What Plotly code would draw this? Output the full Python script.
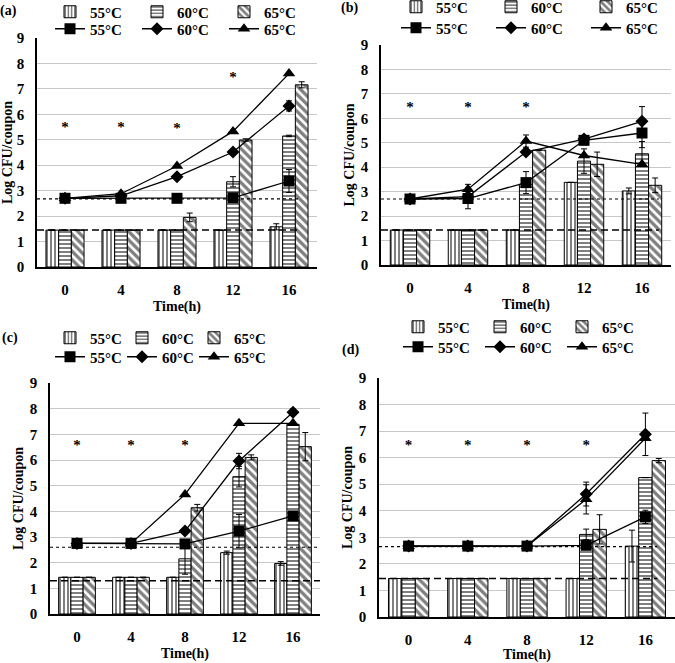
import plotly.graph_objects as go

W, H = 675, 663
FONT = "Liberation Serif"

times = ["0", "4", "8", "12", "16"]
temps = ["55°C", "60°C", "65°C"]

# bar series (rows: 55, 60, 65 C) and their error bars
bars_a = [[1.45, 1.45, 1.45, 1.45, 1.58],
          [1.45, 1.45, 1.45, 3.35, 5.15],
          [1.45, 1.45, 1.95, 4.99, 7.16]]
bar_err_a = [[0, 0, 0, 0, 0.12],
             [0, 0, 0, 0.2, 0.03],
             [0, 0, 0.17, 0.05, 0.12]]
# line series (square, diamond, triangle)
lines_a = [[2.7, 2.7, 2.7, 2.72, 3.38],
           [2.7, 2.8, 3.55, 4.52, 6.33],
           [2.7, 2.88, 3.97, 5.33, 7.6]]
line_err_a = [[0, 0, 0, 0, 0.45],
              [0, 0, 0, 0, 0.2],
              [0, 0, 0, 0, 0]]
stars_a = [0, 1, 2, 3]
star_y_a = [5.45, 5.45, 5.4, 7.4]
dotted_a, dashed_a, end_a = 2.68, 1.45, 4.21

bars_b = [[1.43, 1.43, 1.43, 3.38, 3.03],
          [1.43, 1.43, 3.3, 4.25, 4.55],
          [1.43, 1.43, 4.7, 4.12, 3.26]]
bar_err_b = [[0, 0, 0, 0, 0.12],
             [0, 0, 0, 0.5, 0.5],
             [0, 0, 0, 0.5, 0.3]]
lines_b = [[2.7, 2.72, 3.37, 5.1, 5.4],
           [2.7, 2.8, 4.62, 5.15, 5.88],
           [2.7, 3.1, 5.07, 4.48, 4.12]]
line_err_b = [[0, 0.42, 0.45, 0, 0.6],
              [0, 0, 0, 0, 0.6],
              [0, 0.2, 0.25, 0, 0]]
stars_b = [0, 1, 2]
star_y_b = [6.4, 6.4, 6.4]
dotted_b, dashed_b, end_b = 2.7, 1.43, 4.29

bars_c = [[1.43, 1.43, 1.43, 2.39, 1.97],
          [1.43, 1.43, 2.15, 5.35, 7.39],
          [1.43, 1.43, 4.14, 6.1, 6.52]]
bar_err_c = [[0, 0, 0, 0.06, 0.07],
             [0, 0, 0.6, 0.4, 0],
             [0, 0, 0.13, 0.1, 0.55]]
lines_c = [[2.75, 2.75, 2.73, 3.23, 3.82],
           [2.75, 2.75, 3.23, 5.96, 7.86],
           [2.75, 2.75, 4.66, 7.43, 7.43]]
line_err_c = [[0, 0, 0, 0.65, 0],
              [0, 0, 0, 0.3, 0.12],
              [0, 0, 0, 0, 0]]
stars_c = [0, 1, 2]
star_y_c = [6.53, 6.53, 6.53]
dotted_c, dashed_c, end_c = 2.6, 1.3, 4.5

bars_d = [[1.45, 1.45, 1.45, 1.45, 2.67],
          [1.45, 1.45, 1.45, 3.11, 5.25],
          [1.45, 1.45, 1.45, 3.3, 5.89]]
bar_err_d = [[0, 0, 0, 0, 0.6],
             [0, 0, 0, 0.2, 0],
             [0, 0, 0, 0.55, 0.08]]
lines_d = [[2.67, 2.67, 2.67, 2.7, 3.77],
           [2.67, 2.67, 2.67, 4.63, 6.88],
           [2.67, 2.67, 2.67, 4.43, 6.73]]
line_err_d = [[0, 0, 0, 0, 0.25],
              [0, 0, 0, 0.45, 0.8],
              [0, 0, 0, 0.55, 0]]
stars_d = [0, 1, 2, 3]
star_y_d = [6.42, 6.42, 6.42, 6.42]
dotted_d, dashed_d, end_d = 2.65, 1.45, 4.2

panels = [
    ("(a)", bars_a, bar_err_a, lines_a, line_err_a, stars_a, star_y_a, dotted_a, dashed_a, end_a),
    ("(b)", bars_b, bar_err_b, lines_b, line_err_b, stars_b, star_y_b, dotted_b, dashed_b, end_b),
    ("(c)", bars_c, bar_err_c, lines_c, line_err_c, stars_c, star_y_c, dotted_c, dashed_c, end_c),
    ("(d)", bars_d, bar_err_d, lines_d, line_err_d, stars_d, star_y_d, dotted_d, dashed_d, end_d),
]

# layout in pixels: plot frame (left, right, top, bottom)
frames = [(37, 317, 38, 267), (381, 671, 45, 265), (50, 320, 383, 614), (379, 675, 378, 617)]
# legend: left, row1 y, row2 y, entrywidth
legpos = [(50, 12, 29, 42), (396, 7, 28, 50), (50, 338, 357, 27), (398, 327, 347, 37)]
labpos = [(8, 11), (349, 8), (10, 338), (350, 350)]

patterns = [("|", 4, 0.5), ("-", 4, 0.5), ("\\", 6, 0.55)]
symbols = [("square", 11), ("diamond", 10), ("triangle-up", 11)]

bold = dict(family=FONT, size=15, color="black", weight="bold")


def clean(errs):
    return [e if e else None for e in errs]


fig = go.Figure()
layout = {}
annotations = []
idx = list(range(len(times)))

for i, (lab, bars, berr, lines, lerr, sx, sy, dot, dash, end) in enumerate(panels):
    n = i + 1
    xa = "x" if n == 1 else f"x{n}"
    ya = "y" if n == 1 else f"y{n}"
    lb = "legend" if n == 1 else f"legend{2 * n - 1}"
    ll = f"legend{2 * n}"

    for k in range(3):
        shp, sz, sol = patterns[k]
        fig.add_trace(go.Bar(
            x=idx, y=bars[k], name=temps[k], xaxis=xa, yaxis=ya, legend=lb,
            marker=dict(color="white", line=dict(color="black", width=1),
                        pattern=dict(shape=shp, fgcolor="black", bgcolor="white",
                                     size=sz, solidity=sol)),
            error_y=dict(type="data", array=clean(berr[k]), color="black",
                         thickness=1, width=3),
        ))

    fig.add_trace(go.Scatter(
        x=[-0.5, end], y=[dot, dot], mode="lines", xaxis=xa, yaxis=ya,
        line=dict(color="black", width=1.2, dash="dot"), showlegend=False))
    fig.add_trace(go.Scatter(
        x=[-0.5, end], y=[dash, dash], mode="lines", xaxis=xa, yaxis=ya,
        line=dict(color="black", width=1.5, dash="7px,4px"), showlegend=False))

    for k in range(3):
        sym, msz = symbols[k]
        fig.add_trace(go.Scatter(
            x=idx, y=lines[k], name=temps[k], mode="lines+markers",
            xaxis=xa, yaxis=ya, legend=ll,
            line=dict(color="black", width=1.3),
            marker=dict(symbol=sym, size=msz, color="black"),
            error_y=dict(type="data", array=clean(lerr[k]), color="black",
                         thickness=1, width=3),
        ))

    fig.add_trace(go.Scatter(
        x=sx, y=sy, mode="text", text=["*"] * len(sx), xaxis=xa, yaxis=ya,
        textfont=dict(family=FONT, size=15, color="black", weight="bold"),
        showlegend=False))

    l, r, t, b = frames[i]
    xkey = "xaxis" if n == 1 else f"xaxis{n}"
    ykey = "yaxis" if n == 1 else f"yaxis{n}"
    layout[xkey] = dict(
        domain=[l / W, r / W], anchor=ya, range=[-0.5, 4.5], automargin=False,
        tickmode="array", tickvals=idx, ticktext=times,
        showline=True, linecolor="black", linewidth=1.5, ticks="",
        showgrid=False, zeroline=False, tickfont=bold, ticklabelstandoff=8,
        title=dict(text="Time(h)", font=dict(family=FONT, size=14, color="black", weight="bold"),
                   standoff=4))
    layout[ykey] = dict(
        domain=[1 - b / H, 1 - t / H], anchor=xa, range=[0, 9], dtick=1, tick0=0,
        automargin=False,
        showgrid=True, gridcolor="#c8c8c8", gridwidth=1,
        showline=True, linecolor="black", linewidth=1.5, ticks="",
        zeroline=False, tickfont=bold, ticklabelstandoff=8,
        title=dict(text="Log CFU/coupon", font=dict(family=FONT, size=14, color="black", weight="bold"),
                   standoff=3))

    lx, ry1, ry2, ew = legpos[i]
    for key, yy in ((lb, ry1), (ll, ry2)):
        layout[key] = dict(
            orientation="h", x=lx / W, y=1 - yy / H, xanchor="left", yanchor="middle",
            xref="paper", yref="paper", font=bold, bgcolor="rgba(0,0,0,0)",
            itemwidth=30, entrywidth=ew, entrywidthmode="pixels", traceorder="normal")

    ax, ay = labpos[i]
    annotations.append(dict(
        text=lab, x=ax / W, y=1 - ay / H, xref="paper", yref="paper",
        showarrow=False, xanchor="center", yanchor="middle",
        font=dict(family=FONT, size=14, color="black", weight="bold")))

fig.update_layout(
    width=W, height=H, margin=dict(l=0, r=0, t=0, b=0, autoexpand=False),
    paper_bgcolor="white", plot_bgcolor="white",
    barmode="group", bargap=0.32, bargroupgap=0,
    annotations=annotations, **layout)

# the page body has a default margin; drop it so the figure sits at 0,0
fig.write_html("out.html", config={"displayModeBar": False},
               post_script="document.body.style.margin='0';")
